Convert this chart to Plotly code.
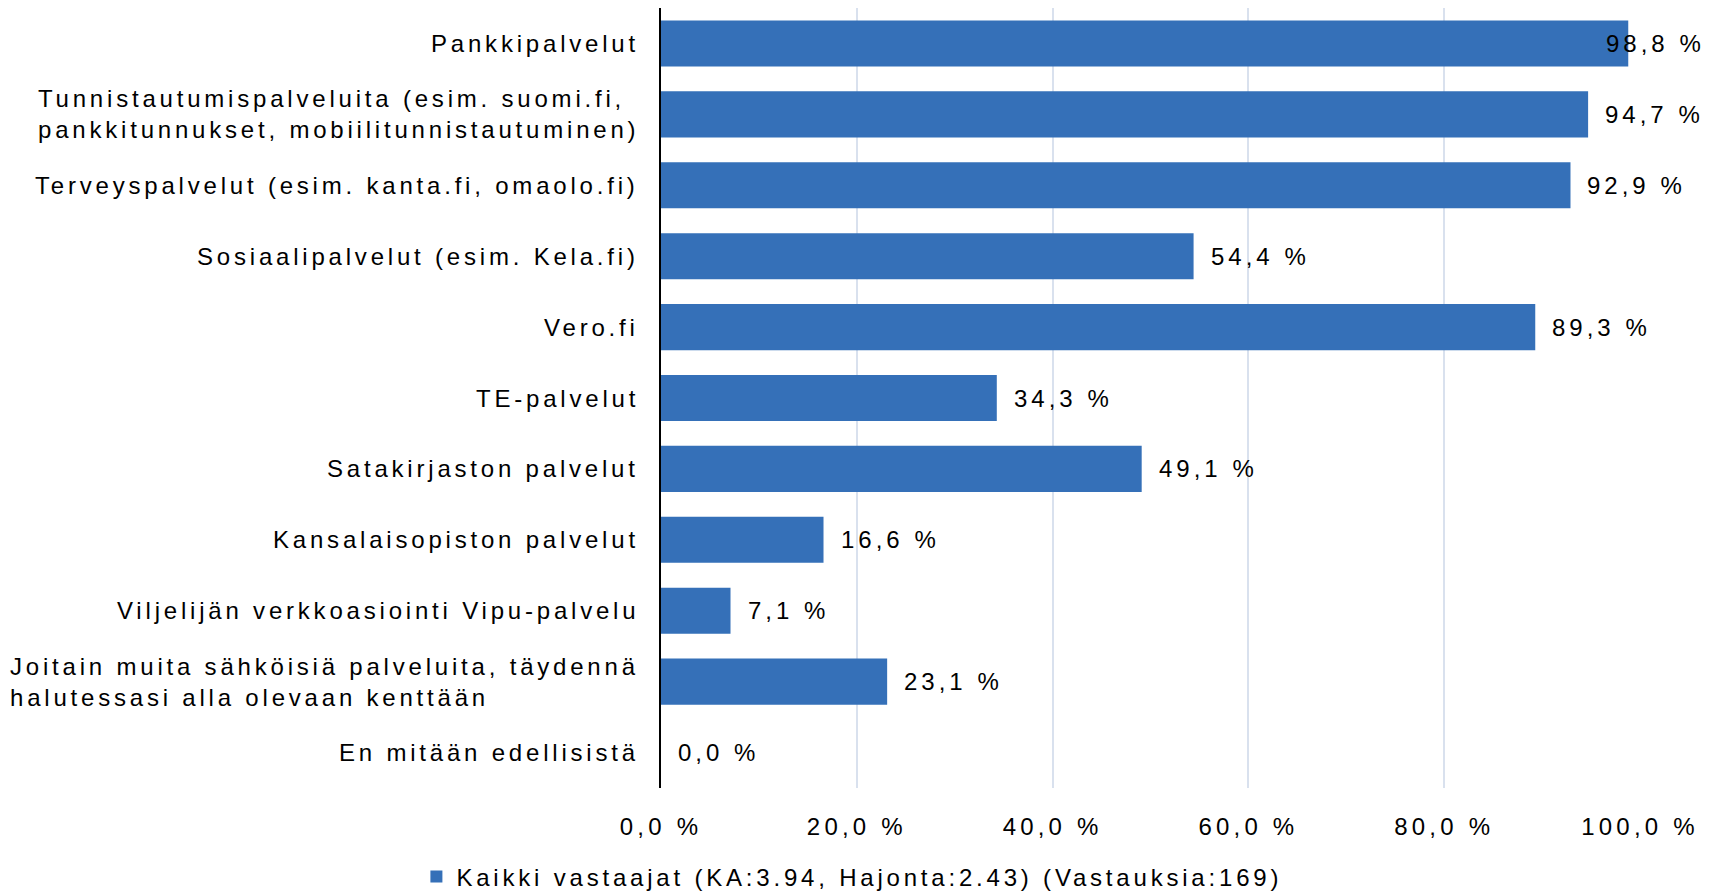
import plotly.graph_objects as go

services = [
    "Pankkipalvelut",
    "Tunnistautumispalveluita (esim. suomi.fi,<br>pankkitunnukset, mobiilitunnistautuminen)",
    "Terveyspalvelut (esim. kanta.fi, omaolo.fi)",
    "Sosiaalipalvelut (esim. Kela.fi)",
    "Vero.fi",
    "TE-palvelut",
    "Satakirjaston palvelut",
    "Kansalaisopiston palvelut",
    "Viljelijän verkkoasiointi Vipu-palvelu",
    "Joitain muita sähköisiä palveluita, täydennä<br>halutessasi alla olevaan kenttään",
    "En mitään edellisistä",
]
shares = [98.8, 94.7, 92.9, 54.4, 89.3, 34.3, 49.1, 16.6, 7.1, 23.1, 0.0]
x_ticks = [0, 20, 40, 60, 80, 100]
x_tick_labels = ["0,0 %", "20,0 %", "40,0 %", "60,0 %", "80,0 %", "100,0 %"]
series_name = "Kaikki vastaajat (KA:3.94, Hajonta:2.43) (Vastauksia:169)"

FONT = "Liberation Sans, Arial, sans-serif"
SIZE = 24


def spaced(txt, px=4.2):
    # wide letter spacing like the original export
    return "<br>".join(f"<span style='letter-spacing:{px}px'>{p}</span>"
                       for p in txt.split("<br>"))


ids = list(range(len(services)))

fig = go.Figure(go.Bar(
    x=shares, y=ids, orientation="h", name=spaced(series_name, 3.8),
    marker=dict(color="#3570B8", line=dict(width=0)),
    width=0.65,
    showlegend=True,
))

# category labels: right-aligned block, left-aligned lines
for i, name in zip(ids, services):
    fig.add_annotation(x=0, xref="paper", y=i, yref="y", text=spaced(name, 3.8),
                       xanchor="right", align="left", xshift=-20,
                       showarrow=False,
                       font=dict(size=SIZE, color="#000000", family=FONT))

# value labels next to bar ends (last one pulled in to fit the page)
for i, v in zip(ids, shares):
    label = spaced(f"{v:.1f} %".replace(".", ","), 4.0)
    if v > 97:
        fig.add_annotation(x=1, xref="paper", y=i, yref="y", text=label,
                           xanchor="right", xshift=67, showarrow=False,
                           font=dict(size=SIZE, color="#000000", family=FONT))
    else:
        fig.add_annotation(x=v, xref="x", y=i, yref="y", text=label,
                           xanchor="left", xshift=15, showarrow=False,
                           font=dict(size=SIZE, color="#000000", family=FONT))

fig.update_layout(
    width=1719, height=884,
    margin=dict(l=653, r=87, t=0, b=104, autoexpand=False),
    plot_bgcolor="white", paper_bgcolor="white",
    font=dict(family=FONT, size=SIZE, color="#000000"),
    legend=dict(orientation="h", x=0.195, xanchor="center", y=-0.114,
                yanchor="middle", font=dict(size=SIZE), itemwidth=30),
    xaxis=dict(range=[0, 100], tickvals=x_ticks,
               ticktext=[spaced(t) for t in x_tick_labels],
               showgrid=True, gridcolor="#D9E1EE", gridwidth=1.5,
               zeroline=False, showline=False, ticks="",
               ticklabelstandoff=22),
    yaxis=dict(autorange="reversed", showticklabels=False, ticks="",
               showgrid=False, zeroline=False, showline=True,
               linecolor="#000000", linewidth=1.5),
)

fig.write_html("out.html")
